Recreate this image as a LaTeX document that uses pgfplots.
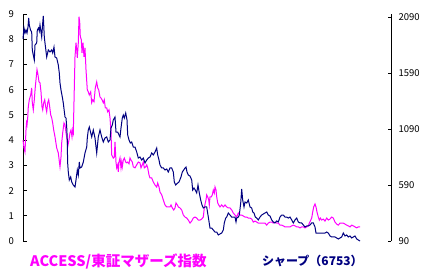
\documentclass[border=0pt]{standalone}
\usepackage{fontspec}
\usepackage{pgfplots}
\pgfplotsset{compat=1.18}
\newfontfamily\jp{Noto Sans CJK JP}
\definecolor{mag}{RGB}{255,0,255}
\definecolor{nav}{RGB}{0,0,128}
\begin{document}
\begin{tikzpicture}
\path[use as bounding box] (-23bp,-34bp) rectangle (407bp,241bp);
\begin{axis}[
  at={(0,0)}, anchor=south west, scale only axis,
  width=368bp, height=227bp,
  xmin=23, xmax=391, ymin=0, ymax=9,
  axis x line=none, axis y line*=left,
  y axis line style={-, black, line width=1bp},
  ytick={0,1,2,3,4,5,6,7,8,9},
  yticklabels={0,1,2,3,4,5,6,7,8,9},
  tick align=inside, major tick length=3.5bp,
  ytick style={black, line width=1bp},
  yticklabel style={font=\jp\fontsize{9.5bp}{11bp}\selectfont, anchor=east, xshift=-5.5bp},
  clip=false,
]
\addplot[mag, line width=1bp] coordinates {
(23,4.01)(24,3.69)(25,3.53)(26,4.40)(26.5,4.68)(27,4.60)(27.7,4.88)(28.3,5.32)(29.3,5.60)(30.7,5.79)
(31.7,6.07)(32.3,5.48)(33.3,5.20)(34.3,5.60)(35.3,6.11)(36,6.39)(37,6.79)(38,6.59)(39,6.31)(40,6.27)
(41,5.91)(42,5.32)(42.7,5.20)(43.7,5.48)(44.7,5.60)(45.7,5.32)(46.7,5.12)(47.7,5.48)(48.7,5.60)(49.7,5.32)
(50.7,5.00)(51.7,4.88)(52.7,4.68)(53.7,4.40)(55,4.13)(56.7,3.69)(58.3,3.49)(60,2.94)(61,3.33)(61.7,3.89)
(62.7,4.29)(64,4.68)(65,4.60)(66,4.29)(66.7,4.13)(67.7,3.73)(69,4.01)(70,4.29)(71,4.40)(72,4.13)
(72.7,4.40)(73.3,4.29)(75,7.30)(76,7.86)(76.7,7.58)(77.3,7.26)(78.3,7.86)(79,8.89)(79.7,8.69)(80.3,8.10)
(81.3,7.98)(82,7.46)(83,7.86)(84,7.30)(85,7.66)(86,6.79)(87.3,5.99)(88.3,5.91)(89.3,5.79)(90.7,5.91)
(91.7,5.48)(92.7,5.60)(94,5.52)(95.3,6.07)(96.7,6.31)(97.7,6.07)(98.7,5.99)(100,5.71)(101,5.67)(102,5.60)
(103.3,5.48)(104.3,5.60)(105.3,5.28)(106.7,5.28)(107.7,5.12)(109,5.20)(110,4.88)(111,4.33)(111.7,3.41)(113.3,3.29)
(114.3,3.33)(115,3.93)(116,3.13)(116.7,2.90)(117.7,3.02)(118.3,2.74)(119,3.13)(120,3.29)(121,2.90)(121.7,3.13)
(122.3,2.94)(123.3,3.21)(124.3,3.29)(125.7,3.13)(126.7,3.10)(127.7,3.13)(129,3.06)(130,3.29)(131,3.21)(132.3,3.13)
(133.3,2.94)(135,2.90)(136.7,3.02)(138.3,3.13)(140,3.10)(141,2.90)(142.3,3.02)(143.3,3.13)(144.3,2.90)(145.7,2.94)
(146.7,3.02)(147.7,2.90)(149,2.62)(150,2.50)(151.7,2.50)(153.3,2.34)(155,2.22)(156.7,2.14)(157.7,2.30)(159,2.14)
(160,1.94)(161.7,1.83)(163.3,1.63)(165,1.43)(166.7,1.35)(168.3,1.35)(170,1.35)(171,1.43)(172.3,1.31)(173.7,1.23)
(175,1.31)(176,1.51)(177.3,1.43)(178.3,1.35)(180,1.31)(181.7,1.23)(183.3,1.03)(185,0.95)(186.7,0.91)(188.3,0.83)
(190,0.71)(191.7,0.79)(193.3,0.91)(195,0.95)(196.7,0.91)(198.3,0.83)(200,0.83)(201.7,0.87)(203.3,0.95)(204.3,1.31)
(205.3,1.51)(206,1.63)(206.7,1.83)(207.7,1.75)(208.7,1.63)(209.3,1.43)(210,1.75)(211.3,1.75)(212.3,1.83)(213.3,2.02)
(214.3,1.90)(215,2.14)(216,2.02)(216.7,1.75)(217.7,1.51)(218.7,1.43)(220,1.35)(221.7,1.43)(223.3,1.35)(225,1.43)
(226.7,1.35)(228.3,1.31)(230,1.31)(231.7,1.23)(233.3,1.11)(235,1.03)(236.7,0.95)(238.3,1.11)(240,1.03)(241.7,1.03)
(243.3,0.99)(245,0.95)(246.7,0.95)(248.3,0.91)(250,0.91)(251.7,0.87)(253.3,0.75)(255,0.79)(256.7,0.75)(258.3,0.71)
(260,0.71)(261.7,0.71)(263.3,0.71)(265,0.71)(266.7,0.63)(268.3,0.71)(270,0.75)(271.7,0.75)(273.3,0.71)(275,0.75)
(276.7,0.71)(278.3,0.71)(280,0.63)(281.7,0.63)(283.3,0.60)(285,0.56)(286.7,0.56)(288.3,0.56)(290,0.56)(291.7,0.60)
(293.3,0.63)(295,0.60)(296.7,0.56)(298.3,0.56)(300,0.52)(301.7,0.56)(303.3,0.56)(305,0.52)(306.7,0.56)(308.3,0.60)
(309.3,0.71)(310.3,0.79)(311.7,0.91)(312.7,1.15)(313.7,1.35)(315,1.47)(316,1.35)(317,1.15)(318.3,0.95)(319.3,0.83)
(320.3,0.91)(321.7,0.83)(323.3,0.87)(325,0.79)(326.7,0.91)(328.3,0.83)(330,0.87)(331.7,0.95)(333.3,0.91)(335,0.75)
(336.7,0.67)(338.3,0.63)(340,0.71)(341.7,0.71)(343.3,0.71)(345,0.67)(346.7,0.63)(348.3,0.60)(350,0.56)(351.7,0.63)
(353.3,0.60)(355,0.56)(356.7,0.52)(358.3,0.56)(360,0.56)
};
\end{axis}
\begin{axis}[
  at={(0,0)}, anchor=south west, scale only axis,
  width=368bp, height=227bp,
  xmin=23, xmax=391, ymin=90, ymax=2117,
  axis x line=none, axis y line*=right,
  y axis line style={-, black, line width=1bp},
  ytick={90,590,1090,1590,2090},
  yticklabels={90,590,1090,1590,2090},
  tick align=inside, major tick length=3.5bp,
  ytick style={black, line width=1bp},
  yticklabel style={font=\jp\fontsize{9.5bp}{11bp}\selectfont, anchor=west, xshift=4bp},
  clip=false,
]
\addplot[nav, line width=1bp] coordinates {
(23,1894)(24,1992)(25,1947)(26,1974)(27,1947)(28,2001)(28.7,2081)(29.3,2019)(30.5,1974)(31.7,1956)
(32.3,1796)(33.3,1751)(34.3,1706)(35,1840)(36.7,1858)(37.3,1974)(38.5,1992)(39.3,1965)(40,2019)(41.7,1912)
(42.7,2037)(43.3,2100)(44.3,1912)(45,1858)(46.7,1733)(48.3,1796)(50,1778)(51.7,1796)(52.7,1769)(54,1822)
(55,1733)(56.7,1724)(58.3,1662)(59.3,1590)(60,1501)(61,1438)(62.3,1376)(63.3,1322)(65,1197)(66,1188)
(66.7,1108)(67.3,992)(67.6,795)(68.3,706)(69.3,635)(70.7,662)(71.7,617)(73.3,590)(75,572)(76,635)
(77.3,724)(78.3,679)(79.3,795)(80,742)(81.7,751)(83.3,795)(85,876)(86.7,929)(87.3,1010)(88.3,1081)
(89.3,1108)(91.7,1019)(93.3,1081)(95,1010)(96.7,876)(98.3,1019)(100,1081)(101.7,1019)(103.3,974)(105,1010)
(106.7,1019)(108.3,974)(110,992)(111,1099)(112.3,1126)(113.3,1171)(115,1197)(116,1063)(117.7,1063)(119,1037)
(120,1019)(121,1099)(122.3,1188)(123.3,1215)(124.3,1188)(125.7,1233)(127,1171)(127.7,1037)(129,992)(130.3,965)
(131.7,974)(133.3,929)(135,929)(136.7,885)(138.3,831)(140,840)(141.7,813)(143.3,831)(145,787)(146.7,813)
(148.3,831)(150,840)(151.7,876)(153.3,858)(155,885)(156.7,920)(157.7,858)(159,813)(160,769)(161.7,742)
(163.3,742)(165,724)(166.7,733)(168.3,706)(170,742)(171.7,742)(173.3,706)(174.3,617)(175.7,590)(177.7,608)
(179,617)(181,662)(182.3,706)(183.7,724)(185,742)(186,751)(187,706)(188.3,679)(190,670)(191.7,635)
(192.7,545)(194,563)(195.3,545)(196.7,519)(198,590)(199.3,519)(200.7,456)(202,411)(203.3,385)(205,394)
(206.7,394)(208.3,304)(210,206)(211.7,206)(213.3,188)(215,170)(216.7,170)(218.3,144)(220,153)(221.7,161)
(223.3,188)(224.3,251)(225.7,295)(226.7,304)(228.3,340)(230,322)(231.7,304)(233.3,304)(235,304)(236,260)
(236.7,295)(238.3,304)(239.3,322)(240.7,429)(241.7,554)(242.7,456)(244,394)(245,438)(246.7,429)(248.3,456)
(250,394)(251.7,385)(252.7,349)(254,340)(255.3,304)(256.7,295)(258.3,278)(260,304)(261.7,322)(263.3,331)
(265,340)(266.7,349)(268.3,322)(270,313)(271.7,278)(273.3,260)(275,251)(276.7,269)(278.3,260)(280,304)
(281.7,322)(283.3,322)(285,304)(286.7,304)(288.3,295)(290,304)(291.7,278)(293.3,251)(295,278)(296.7,295)
(298.3,260)(300,251)(301.7,251)(303.3,233)(305,215)(306.7,224)(308.3,224)(310,233)(311.7,251)(313.3,251)
(315,215)(316,161)(318.3,161)(320,161)(321.7,161)(323.3,161)(325,161)(326.7,170)(328.3,161)(330,135)
(331.7,126)(333.3,126)(335,126)(336.7,117)(338.3,108)(340,117)(341.7,126)(343.3,161)(345,135)(346.7,144)
(348.3,126)(350,135)(351.7,117)(353.3,126)(355,135)(356.7,108)(358.3,99)(360,90)
};
\end{axis}
\node[anchor=west, inner sep=0pt, text=mag, font=\jp\bfseries\fontsize{14.5bp}{16bp}\selectfont] at (7bp,-20bp) {ACCESS/東証マザーズ指数};
\node[anchor=west, inner sep=0pt, text=nav, font=\jp\bfseries\fontsize{12bp}{14bp}\selectfont] at (239bp,-20bp) {シャープ（6753）};
\end{tikzpicture}
\end{document}
